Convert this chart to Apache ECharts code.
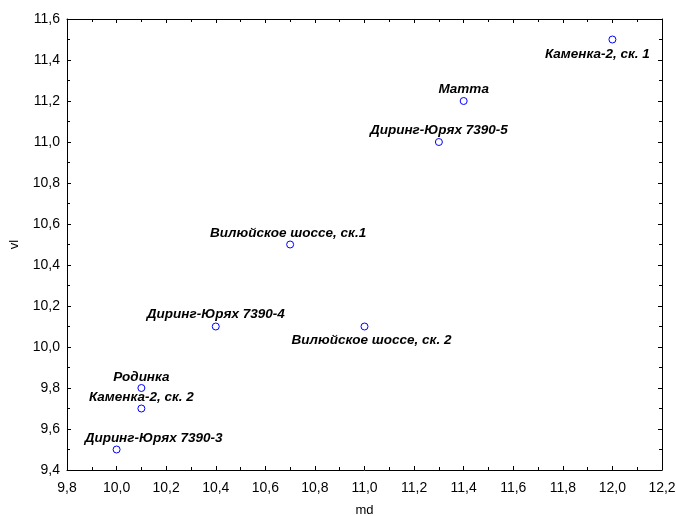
<!DOCTYPE html>
<html>
<head>
<meta charset="utf-8">
<script src="https://cdn.jsdelivr.net/npm/echarts@6/dist/echarts.min.js"></script>
<style>
 html, body { margin: 0; padding: 0; background: #fff; }
 #chart { width: 676px; height: 516px; }
</style>
</head>
<body>
<div id="chart"></div>
<script>
 var names = ['Каменка-2, ск. 1', 'Матта', 'Диринг-Юрях 7390-5', 'Вилюйское шоссе, ск.1',
     'Диринг-Юрях 7390-4', 'Вилюйское шоссе, ск. 2', 'Родинка', 'Каменка-2, ск. 2', 'Диринг-Юрях 7390-3'];
 var md = [12.0, 11.4, 11.3, 10.7, 10.4, 11.0, 10.1, 10.1, 10.0];
 var vl = [11.5, 11.2, 11.0, 10.5, 10.1, 10.1, 9.8, 9.7, 9.5];

 // label placement per point (dx, dy from the marker)
 var labelOffsets = {
     'Каменка-2, ск. 1': [-15, 15],
     'Матта': [0, -12],
     'Диринг-Юрях 7390-5': [0, -12],
     'Вилюйское шоссе, ск.1': [-2, -11],
     'Диринг-Юрях 7390-4': [0, -12],
     'Вилюйское шоссе, ск. 2': [7, 14],
     'Родинка': [0, -11],
     'Каменка-2, ск. 2': [0, -11],
     'Диринг-Юрях 7390-3': [37, -11]
 };

 var chart = echarts.init(document.getElementById('chart'));

 var points = names.map(function (n, i) {
     return {
         name: n,
         value: [md[i], vl[i]],
         label: { offset: labelOffsets[n] }
     };
 });

 function fmt(v) {
     return v.toFixed(1).replace('.', ',');
 }

 var font = 'Liberation Sans, Arial';
 var tickStyle = { color: '#000', width: 1 };

 function makeAxis(pos, min, max, extra) {
     return Object.assign({
         type: 'value',
         position: pos,
         min: min,
         max: max,
         interval: 0.2,
         axisLine: { show: true, onZero: false, lineStyle: tickStyle },
         axisTick: { show: true, inside: true, length: 4, lineStyle: tickStyle },
         minorTick: { show: true, splitNumber: 2, length: 3, lineStyle: tickStyle },
         splitLine: { show: false },
         axisLabel: { show: false },
         nameTextStyle: { color: '#000', fontSize: 13, fontFamily: font }
     }, extra);
 }

 function tickLabel(margin) {
     return { show: true, color: '#000', fontSize: 14, fontFamily: font, formatter: fmt, margin: margin };
 }

 var option = {
     backgroundColor: '#fff',
     animation: false,
     grid: { left: 67, right: 14, top: 19, bottom: 46, outerBoundsMode: 'none', containLabel: false },
     xAxis: [
         makeAxis('bottom', 9.8, 12.2, { name: 'md', nameLocation: 'middle', nameGap: 34, axisLabel: tickLabel(11) }),
         makeAxis('top', 9.8, 12.2, {})
     ],
     yAxis: [
         makeAxis('left', 9.4, 11.6, { name: 'vl', nameLocation: 'middle', nameGap: 46, axisLabel: tickLabel(7) }),
         makeAxis('right', 9.4, 11.6, {})
     ],
     series: [{
         type: 'scatter',
         symbol: 'circle',
         symbolSize: 7,
         itemStyle: { color: '#ffffff', borderColor: '#0000ff', borderWidth: 1, opacity: 1 },
         label: {
             show: true,
             position: 'inside',
             formatter: '{b}',
             color: '#000',
             fontSize: 13.5,
             fontStyle: 'italic',
             fontWeight: 'bold',
             fontFamily: font
         },
         data: points
     }]
 };

 chart.setOption(option);
</script>
</body>
</html>
